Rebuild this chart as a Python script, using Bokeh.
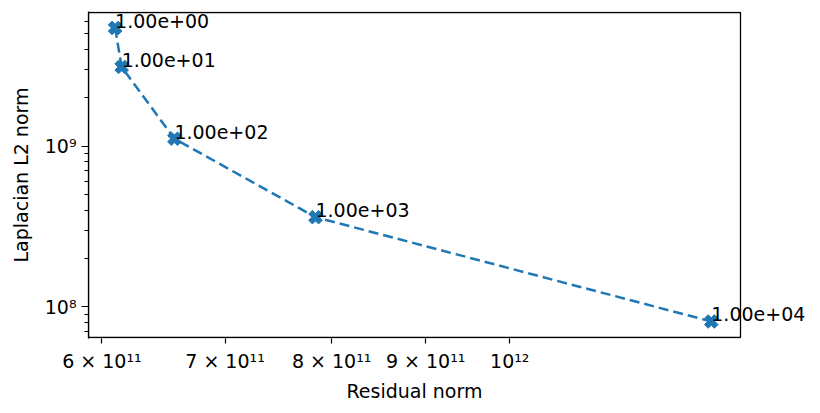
import math
from bokeh.plotting import figure
from bokeh.models import ColumnDataSource, FixedTicker, Range1d, LabelSet, BoxAnnotation, Title
from bokeh.core.properties import value
from bokeh.embed import file_html
from bokeh.resources import INLINE

# Data
lambdas = [1.0, 10.0, 100.0, 1000.0, 10000.0]
residual_norm = [6.10e11, 6.15e11, 6.57e11, 7.84e11, 1.287e12]
laplacian_norm = [5.44e9, 3.11e9, 1.112e9, 3.61e8, 8.09e7]
point_labels = [f"{l:.2e}" for l in lambdas]

x_ticks = [6e11, 7e11, 8e11, 9e11, 1e12]
x_tick_labels = ["6 × 10¹¹", "7 × 10¹¹", "8 × 10¹¹", "9 × 10¹¹", "10¹²"]
y_ticks = [1e8, 1e9]
y_tick_labels = ["10⁸", "10⁹"]
y_minor = [m * 10.0 ** e for e in (7, 8, 9) for m in range(2, 10)]

# visible axes box limits
x_limits = (5.90e11, 1.335e12)
y_limits = (6.43e7, 6.79e9)

COLOR = "#1f77b4"
FONT = "DejaVu Sans"

# layout (pixels): the plotting frame is extended to the right so that the
# point labels may overflow the visible box, as in the reference
LEFT, TOP = 88, 11
BOX_W, BOX_H = 652, 325       # visible box
FRAME_W = 724                 # frame extends past the box on the right
PAD_Y = 1                     # frame extends 1px above/below the box
FRAME_H = BOX_H + 2 * PAD_Y
WIDTH, HEIGHT = 816, 405
XLABEL_OFFSET = 258           # centre the x label under the visible box

lx0, lx1 = math.log10(x_limits[0]), math.log10(x_limits[1])
x_end = 10 ** (lx0 + (lx1 - lx0) * FRAME_W / BOX_W)
ly0, ly1 = math.log10(y_limits[0]), math.log10(y_limits[1])
dy = (ly1 - ly0) * PAD_Y / BOX_H
y_start, y_end = 10 ** (ly0 - dy), 10 ** (ly1 + dy)

src = ColumnDataSource(dict(x=residual_norm, y=laplacian_norm, label=point_labels))

p = figure(width=WIDTH, height=HEIGHT, x_axis_type="log", y_axis_type="log",
           x_range=Range1d(x_limits[0], x_end), y_range=Range1d(y_start, y_end),
           output_backend="svg", toolbar_location=None,
           min_border_left=LEFT, min_border_right=WIDTH - LEFT - FRAME_W,
           min_border_top=TOP, min_border_bottom=HEIGHT - TOP - FRAME_H)

p.background_fill_color = "white"
p.border_fill_color = "white"
p.outline_line_color = None
p.xgrid.visible = False
p.ygrid.visible = False

box = BoxAnnotation(left=x_limits[0], right=x_limits[1], bottom=y_limits[0], top=y_limits[1],
                    fill_color=None, fill_alpha=0, line_color="black", line_alpha=1.0,
                    line_width=1.3, level="underlay")
p.add_layout(box)

p.line("x", "y", source=src, line_color=COLOR, line_width=2.5, line_dash="10 5")
p.scatter("x", "y", source=src, marker="plus", size=14, angle=math.pi / 4,
          fill_color=COLOR, line_color=COLOR, line_width=1)
labels = LabelSet(x="x", y="y", text="label", source=src, text_align="left",
                  text_baseline="alphabetic", text_font=value(FONT),
                  text_font_size=value("19px"), text_color="black")
p.add_layout(labels)

# axes
p.xaxis.ticker = FixedTicker(ticks=x_ticks, minor_ticks=[])
p.xaxis.major_label_overrides = {t: l for t, l in zip(x_ticks, x_tick_labels)}
p.yaxis.ticker = FixedTicker(ticks=y_ticks, minor_ticks=y_minor)
p.yaxis.major_label_overrides = {t: l for t, l in zip(y_ticks, y_tick_labels)}

p.yaxis.axis_label = "Laplacian L2 norm"

for ax in (p.xaxis, p.yaxis):
    ax.major_tick_line_color = "black"
    ax.minor_tick_line_color = "black"
    ax.major_tick_line_width = 1.2
    ax.minor_tick_line_width = 1.0
    ax.major_tick_in = 0
    ax.minor_tick_in = 0
    ax.major_label_text_font = FONT
    ax.major_label_text_font_size = "19px"
    ax.major_label_text_color = "black"
    ax.axis_label_text_font = FONT
    ax.axis_label_text_font_size = "19px"
    ax.axis_label_text_font_style = "normal"
    ax.axis_label_text_color = "black"

p.xaxis.axis_line_color = None
p.yaxis.axis_line_color = "black"
p.yaxis.axis_line_width = 1.3
p.xaxis.major_tick_out = 5
p.yaxis.major_tick_out = 7
p.yaxis.minor_tick_out = 4
p.xaxis.major_label_standoff = 6
p.yaxis.major_label_standoff = 5
p.yaxis.axis_label_standoff = 10

xlabel = Title(text="Residual norm", align="left", offset=XLABEL_OFFSET,
               text_font=FONT, text_font_size="19px", text_font_style="normal",
               text_color="black", standoff=6)
p.add_layout(xlabel, "below")

open("out.html", "w").write(file_html(p, INLINE))
